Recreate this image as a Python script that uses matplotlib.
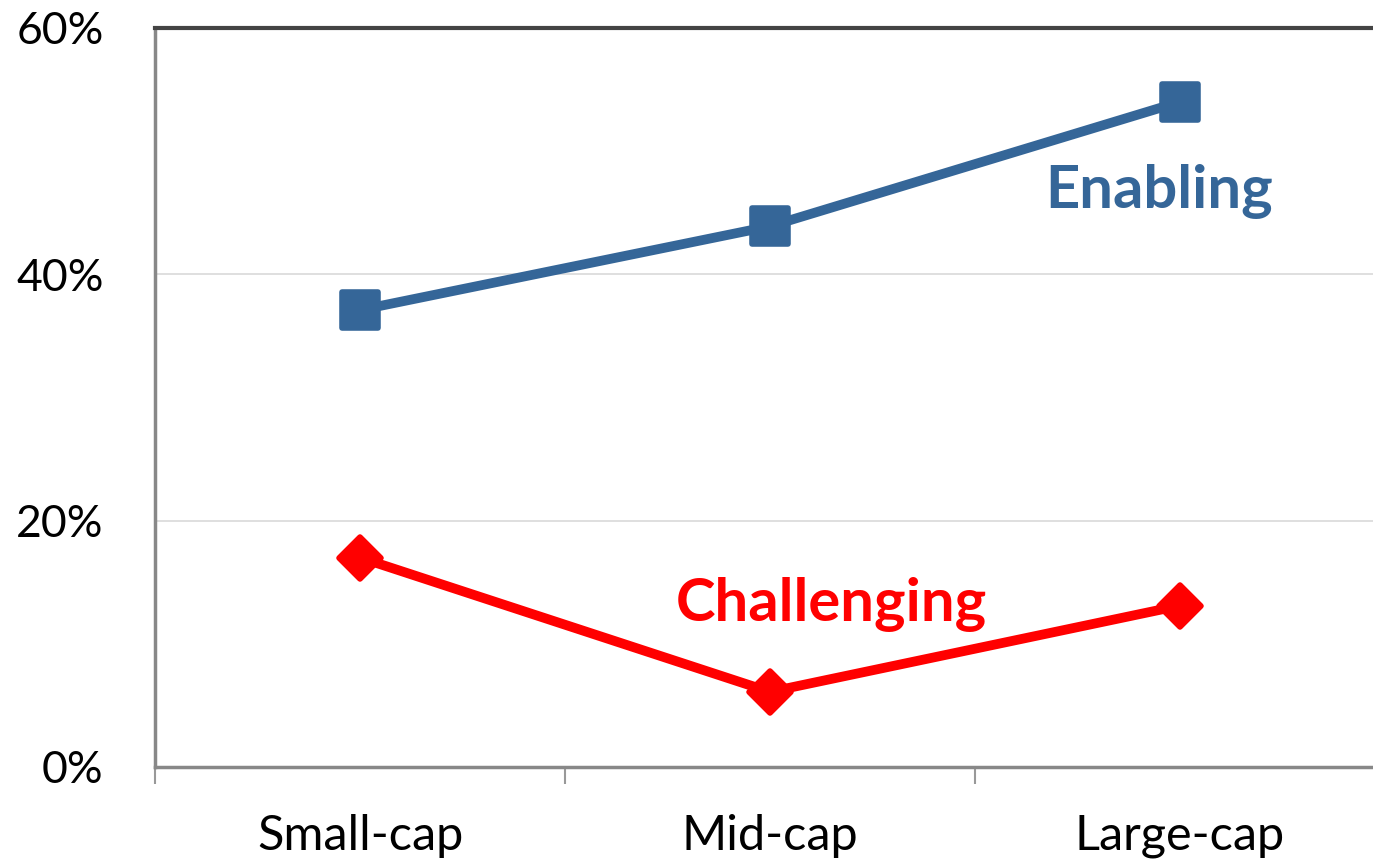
import matplotlib.pyplot as plt
from matplotlib.markers import MarkerStyle
import numpy as np

categories = ["Small-cap", "Mid-cap", "Large-cap"]
enabling = [37.1, 43.9, 54.0]
challenging = [17.0, 6.1, 13.1]
y_ticks = [0, 20, 40, 60]

plt.rcParams['font.family'] = ['Lato', 'DejaVu Sans']

blue = "#356698"
red = "#ff0000"

fig = plt.figure(figsize=(13.73, 8.61), dpi=100)
ax = fig.add_axes([0.1129, 0.1092, 0.8958, 0.8583])

x = np.arange(len(categories))

sq = MarkerStyle('s', joinstyle='round')
dm = MarkerStyle('D', joinstyle='round')
ax.plot(x, enabling, color=blue, lw=7, marker=sq, ms=26, mew=4, mfc=blue, mec=blue,
        solid_joinstyle='round', zorder=3)
ax.plot(x, challenging, color=red, lw=7, marker=dm, ms=21, mew=4, mfc=red, mec=red,
        solid_joinstyle='round', zorder=3)

ax.text(1.95, 46.7, "Enabling", color=blue, fontsize=43, fontweight='bold',
        ha='center', va='center')
ax.text(1.15, 13.2, "Challenging", color=red, fontsize=43, fontweight='bold',
        ha='center', va='center')

ax.set_xlim(-0.5, 2.5)
ax.set_ylim(0, 60)

ax.set_yticks(y_ticks)
ax.set_yticklabels([f"{v}%" for v in y_ticks], fontsize=32)
ax.tick_params(axis='y', length=0, pad=37)

ax.set_xticks(x)
ax.set_xticklabels(categories, fontsize=35)
ax.set_xticks([-0.5, 0.5, 1.5, 2.5], minor=True)
ax.tick_params(axis='x', which='major', length=0, pad=34)
ax.tick_params(axis='x', which='minor', length=12, width=1.5, color='#999999')

ax.grid(axis='y', color='#d9d9d9', lw=1.2)
ax.set_axisbelow(True)

ax.spines['top'].set_color('#444444')
ax.spines['top'].set_linewidth(3)
ax.spines['left'].set_color('#888888')
ax.spines['left'].set_linewidth(2.5)
ax.spines['bottom'].set_color('#888888')
ax.spines['bottom'].set_linewidth(2.5)
ax.spines['right'].set_visible(False)

plt.savefig("out.png", dpi=100)
